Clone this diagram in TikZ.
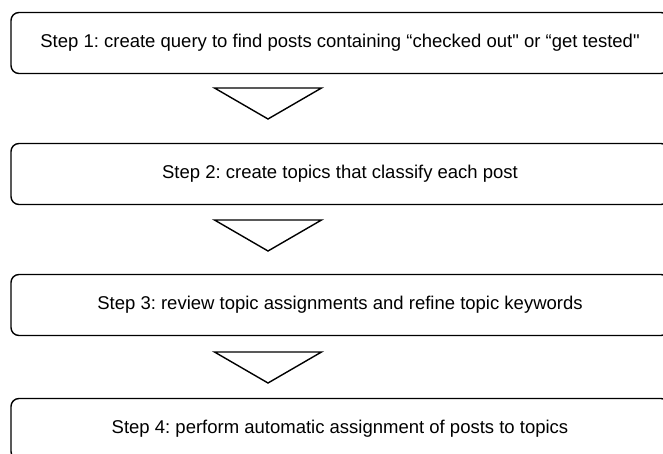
\documentclass[tikz,border=0pt]{standalone}
\usepackage{fontspec}
\setmainfont{Liberation Sans}
\frenchspacing
\tikzset{
  stepbox/.style={draw, line width=1.4pt, rounded corners=8pt, minimum width=658pt, minimum height=61pt, font=\fontsize{18.5}{21}\selectfont},
  downtri/.style={draw, line width=1.4pt, line join=miter}
}
\begin{document}
\begin{tikzpicture}[x=1pt,y=-1pt]
    \useasboundingbox (0,0) rectangle (663,453);
    \node[stepbox] (s1) at (340,43) {Step 1: create query to find posts containing “checked out\textquotedbl{} or “get tested\textquotedbl};
    \node[stepbox] (s2) at (340,174) {Step 2: create topics that classify each post};
    \node[stepbox] (s3) at (340,305) {Step 3: review topic assignments and refine topic keywords};
    \node[stepbox] (s4) at (340,429) {Step 4: perform automatic assignment of posts to topics};
    % arrows between steps
    \coordinate (a1) at (268,88);
    \coordinate (a2) at (268,220);
    \coordinate (a3) at (268,352);
    \draw[downtri] (a1) ++(-53.5,0) -- ++(107,0) -- ++(-53.5,31) -- cycle;
    \draw[downtri] (a2) ++(-53.5,0) -- ++(107,0) -- ++(-53.5,31) -- cycle;
    \draw[downtri] (a3) ++(-53.5,0) -- ++(107,0) -- ++(-53.5,31) -- cycle;
\end{tikzpicture}
\end{document}
